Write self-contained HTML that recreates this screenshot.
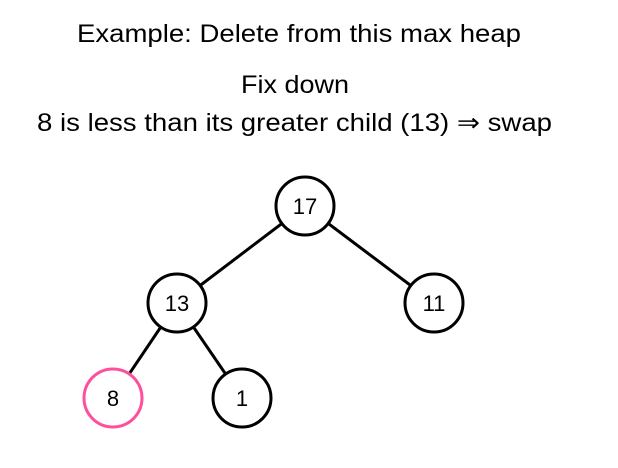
<!DOCTYPE html>
<html><head><style>
body{margin:0;width:618px;height:463px;background:#fff;overflow:hidden}
</style></head><body>
<svg width="618" height="463" xmlns="http://www.w3.org/2000/svg" font-family="Liberation Sans, sans-serif">
<text x="77" y="42" font-size="25" textLength="444" lengthAdjust="spacingAndGlyphs">Example: Delete from this max heap</text>
<text x="241" y="93" font-size="25" textLength="108" lengthAdjust="spacingAndGlyphs">Fix down</text>
<text x="37" y="131" font-size="25" textLength="515" lengthAdjust="spacingAndGlyphs">8 is less than its greater child (13) ⇒ swap</text>
<g stroke="#000" stroke-width="3">
<line x1="305" y1="206" x2="177" y2="303"/>
<line x1="305" y1="206" x2="434" y2="303"/>
<line x1="177" y1="303" x2="113" y2="398"/>
<line x1="177" y1="303" x2="242" y2="398"/>
</g>
<g stroke="#000" stroke-width="3" fill="#fff">
<circle cx="305" cy="206" r="29"/>
<circle cx="177" cy="303" r="29"/>
<circle cx="434" cy="303" r="29"/>
<circle cx="242" cy="398" r="29"/>
<circle cx="113" cy="398" r="29" stroke="#ff4f9a"/>
</g>
<g font-size="22" text-anchor="middle">
<text x="305" y="214">17</text>
<text x="177" y="311">13</text>
<text x="434" y="311">11</text>
<text x="113" y="406">8</text>
<text x="242" y="406">1</text>
</g>
</svg>
</body></html>
